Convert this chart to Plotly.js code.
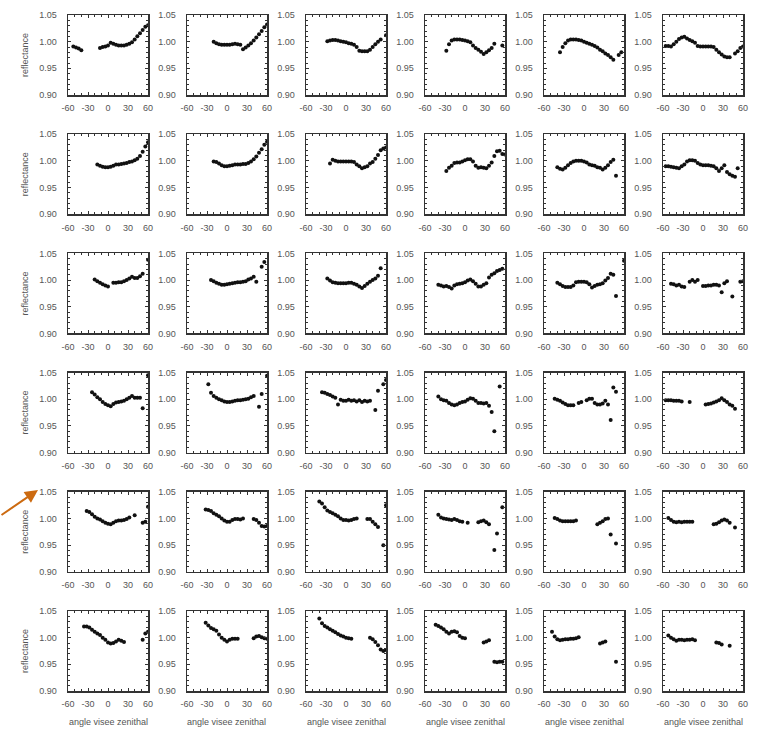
<!DOCTYPE html>
<html>
<head>
<meta charset="utf-8">
<script src="https://cdn.plot.ly/plotly-3.0.1.min.js"></script>
<style>html,body{margin:0;padding:0;background:#fff;}#chart{width:759px;height:732px;}</style>
</head>
<body>
<div id="chart"></div>
<script>
const n = null;
// viewing zenith angle grid (degrees)
const angles = [-60,-56,-52,-48,-44,-40,-36,-32,-28,-24,-20,-16,-12,-8,-4,0,4,8,12,16,20,24,28,32,36,40,44,48,52,56,60];
const xTickVals = [-60,-30,0,30,60];
const xTickText = ['-60','-30','0','30','60'];
const yTickVals = [0.90,0.95,1.00,1.05];
const yTickText = ['0.90','0.95','1.00','1.05'];
const yTitle = 'reflectance';
const xTitle = 'angle visee zenithal';

// reflectance per panel (row r, column c)
const r1c1 = [n,n,.991,.989,.987,.984,n,n, n,n,n,n,.988,.990,.991,.993, .998,.996,.994,.993,.993,.993,.994,.996, .999,1.004,1.010,1.016,1.022,1.028,1.031];
const r1c2 = [n,n,n,n,n,n,n,n, n,n,1.000,.997,.995,.994,.994,.994, .994,.995,.996,.995,.994,.986,.989,.993, .997,1.002,1.008,1.014,1.020,1.027,1.032];
const r1c3 = [n,n,n,n,n,n,n,n, 1.001,1.002,1.003,1.003,1.002,1.001,1.000,.999, .997,.996,.994,.990,.983,.982,.982,.982, .985,.990,.995,1.000,1.004,n,1.012];
const r1c4 = [n,n,n,n,n,n,n,n, .983,.995,1.002,1.004,1.004,1.004,1.003,1.002, 1.001,.999,.993,.988,.985,.981,.977,.980, .984,.988,.996,n,n,.993,n];
const r1c5 = [n,n,n,n,n,n,.980,.990, .997,1.002,1.004,1.004,1.004,1.003,1.002,1.000, .998,.996,.994,.992,.989,.985,.982,.978, .975,.971,.966,n,.975,.980,n];
const r1c6 = [n,.992,.992,.991,.995,1.000,1.005,1.008, 1.009,1.006,1.003,1.001,.998,.992,.991,.991, .991,.991,.991,.990,.985,.980,.976,.972, .971,.971,n,.978,.982,.988,.991];

const r2c1 = [n,n,n,n,n,n,n,n, n,n,n,.993,.991,.989,.988,.988, .989,.991,.993,.993,.994,.995,.996,.998, .999,1.001,1.004,1.009,1.017,1.027,1.035];
const r2c2 = [n,n,n,n,n,n,n,n, n,n,.999,.998,.995,.992,.990,.990, .991,.992,.993,.993,.993,.994,.994,.996, .999,1.003,1.008,1.015,1.022,1.030,1.036];
const r2c3 = [n,n,n,n,n,n,n,n, n,.995,1.002,1.000,.999,.999,.999,.999, .999,.999,.998,.993,.990,.986,.988,.990, .995,.998,1.004,1.011,1.020,1.023,1.025];
const r2c4 = [n,n,n,n,n,n,n,n, .981,.987,.991,.996,.997,.997,.999,1.001, 1.003,1.003,.999,.991,.987,.988,.987,.986, .991,.997,1.009,1.018,1.019,1.013,1.012];
const r2c5 = [n,n,n,n,n,.988,.985,.984, .987,.992,.996,.999,1.000,1.000,1.000,.999, .997,.993,.992,.991,.988,.987,.984,.987, .992,.998,1.002,.972,n,n,n];
const r2c6 = [n,.990,.990,.989,.988,.987,.986,.990, .993,.999,1.001,1.001,1.000,.996,.993,.992, .992,.992,.991,.990,.986,.981,.986,.992, .979,.975,.972,.970,.986,n,n];

const r3c1 = [n,n,n,n,n,n,n,n, n,n,1.001,.998,.995,.992,.990,.988, n,.995,.995,.996,.996,.998,1.000,1.003, 1.006,1.004,1.004,1.007,1.012,n,1.038];
const r3c2 = [n,n,n,n,n,n,n,n, n,1.000,.998,.995,.993,.991,.991,.992, .993,.994,.995,.996,.996,.997,.998,1.001, 1.003,1.006,.997,n,1.025,1.034,n];
const r3c3 = [n,n,n,n,n,n,n,n, 1.003,.999,.996,.995,.994,.994,.994,.994, .995,.995,.993,.991,.988,.985,.989,.993, .997,1.000,1.003,1.008,1.022,n,n];
const r3c4 = [n,n,n,n,n,.991,.990,.988, .989,.987,.984,.990,.992,.993,.994,.996, .999,1.001,.998,.993,.988,.988,.991,.994, 1.005,1.010,1.013,1.017,1.019,1.021,n];
const r3c5 = [n,n,n,n,n,.995,.992,.989, .987,.987,.987,.990,.996,.997,.997,.997, .996,.992,.986,.989,.991,.992,.994,.999, 1.004,1.012,1.010,.970,n,n,1.036];
const r3c6 = [n,n,n,.993,.992,.990,.991,.988, .987,n,.997,1.000,.997,1.000,n,.989, .989,.990,.990,.991,.991,.990,.977,.994, .998,n,.969,n,n,.997,.998];

const r4c1 = [n,n,n,n,n,n,n,n, n,1.013,1.009,1.004,1.000,.995,.991,.989, .987,.991,.994,.995,.996,.997,1.000,1.003, 1.006,1.003,1.003,1.003,.983,n,1.045];
const r4c2 = [n,n,n,n,n,n,n,n, 1.028,1.012,1.006,1.003,1.000,.998,.996,.995, .995,.996,.997,.998,.998,.999,1.000,1.001, 1.004,1.006,n,.986,1.010,n,1.044];
const r4c3 = [n,n,n,n,n,n,1.013,1.012, 1.010,1.008,1.005,1.003,.990,.999,.997,.997, .999,.997,.998,.996,.998,.995,.997,.996, .997,n,.980,1.016,n,1.028,1.036];
const r4c4 = [n,n,n,n,n,1.005,1.000,.998, .997,.993,.990,.989,.990,.993,.995,.996, .999,1.002,1.001,.997,.993,.993,.992,.993, .988,.976,.940,n,1.024,n,n];
const r4c5 = [n,n,n,n,1.001,.999,.997,.994, .991,.989,.989,.989,n,.993,.995,n, .998,1.001,1.001,.993,.990,.990,.992,.997, .990,.961,1.022,1.014,n,n,n];
const r4c6 = [n,.998,.998,.998,.997,.997,.997,.996, n,n,.995,n,n,n,n,n, .990,.991,.992,.994,.996,.998,1.002,.998, .995,.990,.988,.982,n,n,n];

const r5c1 = [n,n,n,n,n,n,n,1.014, 1.012,1.008,1.003,1.000,.998,.995,.992,.990, .989,.992,.995,.996,.996,.997,.999,1.002, n,1.006,n,n,.992,.994,1.022];
const r5c2 = [n,n,n,n,n,n,n,1.017, 1.016,1.014,1.010,1.007,1.004,1.000,.996,.994, .994,.997,.999,.999,.998,1.000,n,n, n,.999,.997,.992,.986,.985,.986];
const r5c3 = [n,n,n,n,n,1.032,1.028,1.021, 1.015,1.012,1.010,1.007,1.004,1.000,.997,.997, .996,.997,.999,1.000,n,n,n,.999, .999,.994,.989,.984,n,.950,1.025];
const r5c4 = [n,n,n,n,n,1.007,1.002,1.000, .999,.998,.997,.999,.997,.995,.994,n, .992,n,n,n,.993,.995,.996,.993, .989,n,.941,.972,n,1.021,n];
const r5c5 = [n,n,n,n,1.001,.999,.996,.995, .995,.995,.995,.995,.996,n,n,n, n,n,n,n,.989,.992,.995,.999, 1.000,.970,n,.953,n,n,n];
const r5c6 = [n,n,1.001,.997,.994,.993,.994,.993, .994,.994,.994,.994,n,n,n,n, n,n,n,.989,.990,.993,.996,.998, .996,.992,n,.983,n,n,n];

const r6c1 = [n,n,n,n,n,n,1.021,1.021, 1.019,1.015,1.011,1.008,1.005,1.000,.996,.991, .989,.990,.993,.996,.994,.992,n,n, n,n,n,n,.996,1.008,1.011];
const r6c2 = [n,n,n,n,n,n,n,1.028, 1.023,1.018,1.016,1.013,1.006,1.000,.996,.993, .996,.998,.998,.998,n,n,n,n, n,.999,1.002,1.003,1.001,.999,.998];
const r6c3 = [n,n,n,n,n,1.036,1.027,1.022, 1.019,1.016,1.013,1.010,1.007,1.004,1.002,1.000, .999,.998,n,n,n,n,n,n, 1.000,.997,.992,.986,.978,.975,.977];
const r6c4 = [n,n,n,n,1.024,1.022,1.019,1.016, 1.011,1.008,1.011,1.012,1.010,1.003,1.000,.999, n,n,n,n,n,n,.991,.993, .995,n,.955,.954,.955,.955,n];
const r6c5 = [n,n,n,1.011,1.002,.997,.995,.996, .997,.997,.998,.998,.999,1.001,n,n, n,n,n,n,n,.989,.991,.993, n,n,n,.955,n,n,n];
const r6c6 = [n,n,1.004,1.000,.997,.994,.996,.996, .995,.996,.996,.997,.995,n,n,n, n,n,n,n,.991,.990,.987,n, n,.985,n,n,n,n,n];

const panels = [
  [r1c1,r1c2,r1c3,r1c4,r1c5,r1c6],
  [r2c1,r2c2,r2c3,r2c4,r2c5,r2c6],
  [r3c1,r3c2,r3c3,r3c4,r3c5,r3c6],
  [r4c1,r4c2,r4c3,r4c4,r4c5,r4c6],
  [r5c1,r5c2,r5c3,r5c4,r5c5,r5c6],
  [r6c1,r6c2,r6c3,r6c4,r6c5,r6c6]
];

const W = 759, H = 732;
const boxW = 80, boxH = 80;
const colLeft = c => 68 + 119 * c;
const rowTop = r => 15 + 119.2 * r;
const tickFont = {family: 'Liberation Sans, Arial, sans-serif', size: 9, color: '#555'};
const lineCol = '#333';

const data = [];
const layout = {
  width: W, height: H, autosize: false,
  margin: {l: 0, r: 0, t: 0, b: 0},
  paper_bgcolor: '#fff', plot_bgcolor: '#fff',
  showlegend: false,
  annotations: []
};

for (let r = 0; r < 6; r++) {
  for (let c = 0; c < 6; c++) {
    const idx = r * 6 + c + 1;
    const s = idx === 1 ? '' : String(idx);
    data.push({
      type: 'scatter', mode: 'markers',
      x: angles, y: panels[r][c],
      xaxis: 'x' + s, yaxis: 'y' + s,
      marker: {size: 4, color: '#111'},
      cliponaxis: false, hoverinfo: 'skip', showlegend: false
    });
    const L = colLeft(c), T = rowTop(r);
    layout['xaxis' + s] = {
      domain: [L / W, (L + boxW) / W], anchor: 'y' + s,
      range: [-60, 60], tickmode: 'array', tickvals: xTickVals, ticktext: xTickText,
      ticks: 'inside', ticklen: 3, tickwidth: 1, tickcolor: lineCol,
      minor: {tickmode: 'linear', tick0: 0, dtick: 10, ticks: 'inside', ticklen: 2, tickcolor: lineCol},
      showline: true, linecolor: lineCol, linewidth: 1.5, mirror: 'allticks',
      showgrid: false, zeroline: false, tickfont: tickFont, ticklabelstandoff: 4,
      fixedrange: true
    };
    layout['yaxis' + s] = {
      domain: [1 - (T + boxH) / H, 1 - T / H], anchor: 'x' + s,
      range: [0.90, 1.05], tickmode: 'array', tickvals: yTickVals, ticktext: yTickText,
      ticks: 'inside', ticklen: 3, tickwidth: 1, tickcolor: lineCol,
      minor: {tickmode: 'linear', tick0: 0.90, dtick: 0.01, ticks: 'inside', ticklen: 2, tickcolor: lineCol},
      showline: true, linecolor: lineCol, linewidth: 1.5, mirror: 'allticks',
      showgrid: false, zeroline: false, tickfont: tickFont, ticklabelstandoff: 8,
      fixedrange: true
    };
  }
  // y title for the first column of each row
  layout.annotations.push({
    text: yTitle, xref: 'paper', yref: 'paper',
    x: 25 / W, y: 1 - (rowTop(r) + boxH / 2) / H,
    textangle: -90, showarrow: false, xanchor: 'center', yanchor: 'middle',
    font: {family: 'Liberation Sans, Arial, sans-serif', size: 9, color: '#555'}
  });
}
// x titles under bottom row
for (let c = 0; c < 6; c++) {
  layout.annotations.push({
    text: xTitle, xref: 'paper', yref: 'paper',
    x: (colLeft(c) + boxW / 2) / W, y: 1 - 722 / H,
    showarrow: false, xanchor: 'center', yanchor: 'middle',
    font: {family: 'Liberation Sans, Arial, sans-serif', size: 9, color: '#555'}
  });
}
// orange arrow pointing at the 1.05 label of row 5
layout.annotations.push({
  text: '', xref: 'paper', yref: 'paper',
  x: 38 / W, y: 1 - 490 / H, ax: -40, ay: 26,
  showarrow: true, arrowhead: 2, arrowsize: 1.3, arrowwidth: 2, arrowcolor: '#cc6a10'
});

Plotly.newPlot('chart', data, layout, {staticPlot: true, displayModeBar: false});
</script>
</body>
</html>
